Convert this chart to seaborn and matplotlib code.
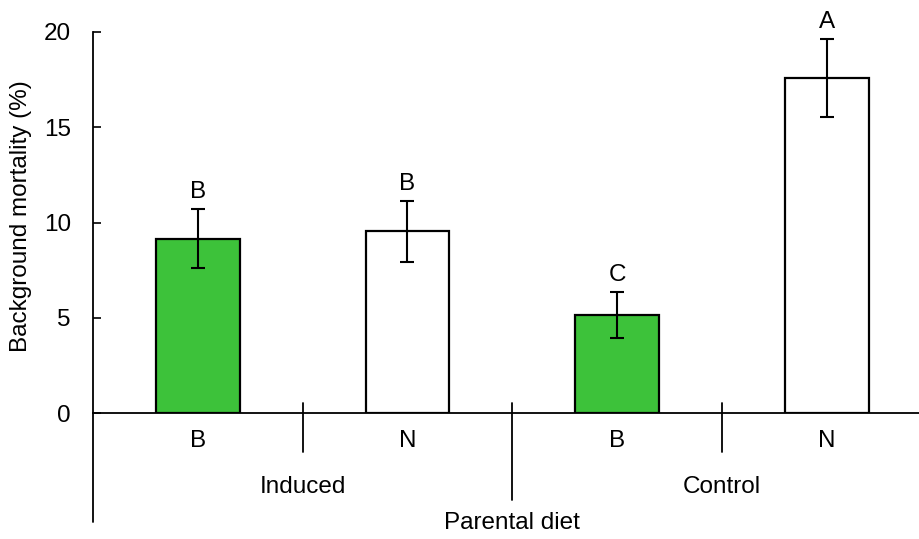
import numpy as np
import pandas as pd
import matplotlib
matplotlib.use("Agg")
import matplotlib.pyplot as plt
import seaborn as sns

# data
groups = ["Induced", "Induced", "Control", "Control"]
diets = ["B", "N", "B", "N"]
mortality = [9.15, 9.55, 5.15, 17.6]
errors = [1.55, 1.6, 1.2, 2.05]
letters = ["B", "B", "C", "A"]
bar_colors = ["#3dc23a", "white", "#3dc23a", "white"]

df = pd.DataFrame({
    "cat": [f"{g} {d}" for g, d in zip(groups, diets)],
    "diet": diets,
    "mortality": mortality,
})

sns.set_style("white")
plt.rcParams["font.family"] = ["Liberation Sans", "DejaVu Sans"]
plt.rcParams["text.color"] = "black"
plt.rcParams["xtick.color"] = "black"
plt.rcParams["ytick.color"] = "black"
plt.rcParams["axes.labelcolor"] = "black"
fs = 17.5

fig = plt.figure(figsize=(9.19, 5.39), dpi=100)
ax = fig.add_axes([93 / 919, 1 - 413 / 539, 1 - 93 / 919, (413 - 32) / 539])

sns.barplot(data=df, x="cat", y="mortality", hue="cat", palette=bar_colors,
            saturation=1, width=0.4, edgecolor="black", linewidth=1.6,
            legend=False, errorbar=None, ax=ax)
ax.errorbar(np.arange(len(df)), mortality, yerr=errors, fmt="none",
            ecolor="black", elinewidth=1.5, capsize=4.7, capthick=1.5)

for i, (m, e, l) in enumerate(zip(mortality, errors, letters)):
    ax.text(i, m + e + 0.3, l, ha="center", va="bottom", fontsize=fs, clip_on=False)

ax.set_xlim(-0.5, 3.44)
ax.set_ylim(0, 20)
ax.set_yticks([0, 5, 10, 15, 20])
ax.tick_params(axis="y", direction="in", length=6, width=1.2, labelsize=fs, left=True, pad=16)
ax.tick_params(axis="x", length=0, labelsize=fs, pad=12)
ax.set_xticks(range(len(df)))
ax.set_xticklabels(diets)
ax.set_xlabel("")
ax.set_ylabel("Background mortality (%)", fontsize=fs)
ax.yaxis.set_label_coords(-0.074, 0.517)

for s in ["top", "right"]:
    ax.spines[s].set_visible(False)
for s in ["left", "bottom"]:
    ax.spines[s].set_linewidth(1.3)
    ax.spines[s].set_color("black")

# extended left axis and group dividers
trans = ax.get_xaxis_transform()
ax.plot([-0.5, -0.5], [0, -0.286], color="black", lw=1.3, transform=trans, clip_on=False)
for xpos, ybot in [(0.5, -0.102), (1.5, -0.228), (2.5, -0.102)]:
    ax.plot([xpos, xpos], [0.026, ybot], color="black", lw=1.3, transform=trans, clip_on=False)

ax.text(0.5, -0.194, "Induced", ha="center", va="center", fontsize=fs, transform=trans)
ax.text(2.5, -0.194, "Control", ha="center", va="center", fontsize=fs, transform=trans)
ax.text(1.5, -0.289, "Parental diet", ha="center", va="center", fontsize=fs, transform=trans)

fig.savefig("out.png", dpi=100)
